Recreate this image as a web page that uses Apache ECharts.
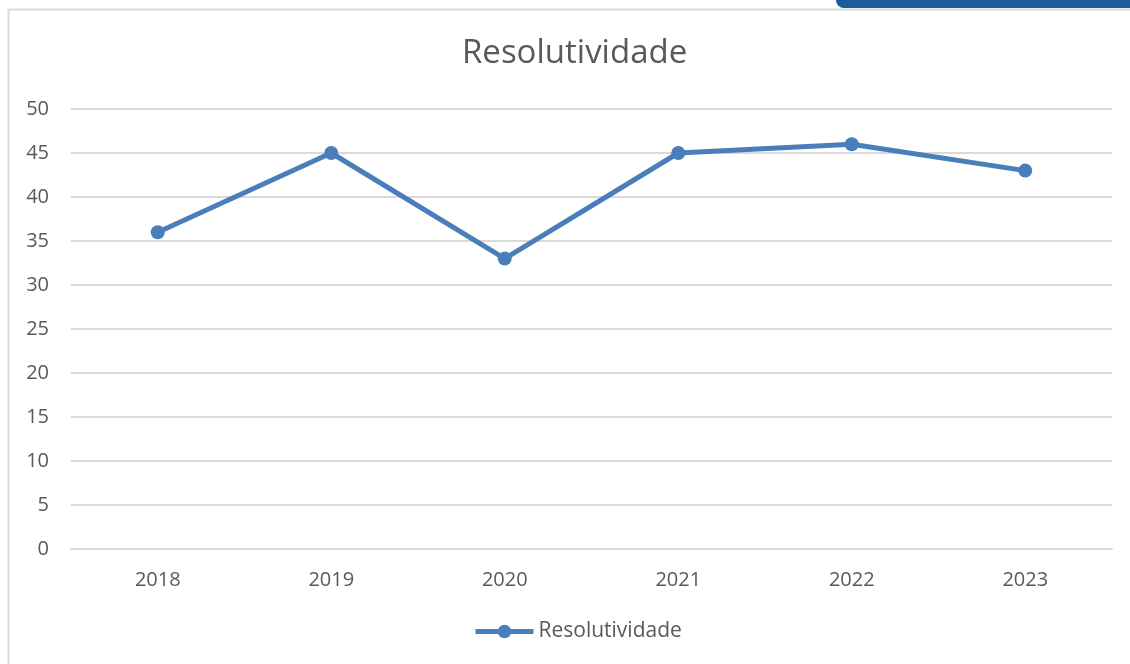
<!DOCTYPE html>
<html>
<head>
<meta charset="utf-8">
<script src="https://cdn.jsdelivr.net/npm/echarts@6/dist/echarts.min.js"></script>
<style>
  html, body { margin: 0; padding: 0; background: #fff; }
  #chart { width: 1130px; height: 664px; }
</style>
</head>
<body>
<div id="chart"></div>
<script>
var years = ['2018', '2019', '2020', '2021', '2022', '2023']
var resolutividade = [36, 45, 33, 45, 46, 43]
var seriesName = 'Resolutividade'

var chart = echarts.init(document.getElementById('chart'))
chart.setOption({
  backgroundColor: '#fff',
  animation: false,
  graphic: [
    // moldura do gráfico
    {
      type: 'rect',
      shape: { x: 8.5, y: 9.5, width: 1140, height: 700 },
      style: { fill: 'none', stroke: '#d9d9d9', lineWidth: 2 },
      z: -1
    },
    // barra azul no topo
    {
      type: 'rect',
      shape: { x: 836, y: -10, width: 310, height: 18, r: 8 },
      style: { fill: '#1a5c9c' }
    }
  ],
  title: {
    text: seriesName,
    left: 457,
    top: 32,
    textStyle: {
      fontFamily: 'Open Sans',
      fontSize: 33,
      fontWeight: 'normal',
      color: '#595959'
    }
  },
  grid: {
    left: 71,
    right: 18,
    top: 109,
    bottom: 115
  },
  legend: {
    bottom: 17,
    left: 468,
    itemWidth: 58,
    itemHeight: 17,
    itemGap: 4,
    lineStyle: { width: 5 },
    textStyle: {
      fontFamily: 'Open Sans',
      fontSize: 21,
      color: '#595959'
    },
    data: [seriesName]
  },
  xAxis: {
    type: 'category',
    data: years,
    boundaryGap: true,
    axisLine: { lineStyle: { color: '#d9d9d9', width: 2 } },
    axisTick: { show: false },
    axisLabel: {
      margin: 21,
      fontFamily: 'Open Sans',
      fontSize: 20,
      color: '#595959'
    }
  },
  yAxis: {
    type: 'value',
    min: 0,
    max: 50,
    interval: 5,
    axisLine: { show: false },
    axisTick: { show: false },
    splitLine: { lineStyle: { color: '#d9d9d9', width: 2 } },
    axisLabel: {
      margin: 22,
      fontFamily: 'Open Sans',
      fontSize: 20,
      color: '#595959'
    }
  },
  series: [{
    name: seriesName,
    type: 'line',
    data: resolutividade,
    symbol: 'circle',
    symbolSize: 14,
    itemStyle: { color: '#4a7ebb' },
    lineStyle: { color: '#4a7ebb', width: 5 }
  }]
})
</script>
</body>
</html>
